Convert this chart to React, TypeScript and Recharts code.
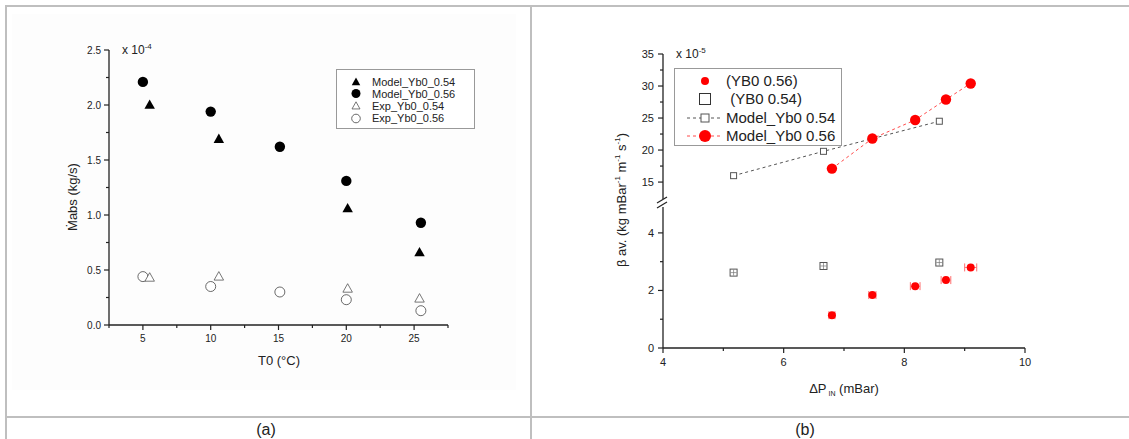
import React from "react";
import { ScatterChart, Scatter, XAxis, YAxis, ErrorBar } from "recharts";

const FONT = "Arial, 'Liberation Sans', sans-serif";
const AX = "#222";

// panel (a): absorbed mass flow vs inlet temperature (x 10^-4 kg/s)
const tempModel54 = [5.5, 10.6, 20.1, 25.4];
const mabsModel54 = [2.0, 1.69, 1.06, 0.66];
const tempModel56 = [5, 10, 15.1, 20, 25.5];
const mabsModel56 = [2.21, 1.94, 1.62, 1.31, 0.93];
const tempExp54 = [5.5, 10.6, 20.1, 25.4];
const mabsExp54 = [0.43, 0.44, 0.33, 0.24];
const tempExp56 = [5, 10, 15.1, 20, 25.5];
const mabsExp56 = [0.44, 0.35, 0.3, 0.23, 0.13];
const ticksA_x = [2.5, 5, 7.5, 10, 12.5, 15, 17.5, 20, 22.5, 25, 27.5];
const ticksA_y = [0, 0.25, 0.5, 0.75, 1, 1.25, 1.5, 1.75, 2, 2.25, 2.5];

// panel (b): beta vs inlet pressure drop
const dp54 = [5.17, 6.66, 8.58];
const betaModel54 = [16.0, 19.8, 24.5]; // x 10^-5
const betaExp54 = [2.62, 2.85, 2.97];
const dp56 = [6.8, 7.47, 8.18, 8.69, 9.1];
const betaModel56 = [17.1, 21.8, 24.7, 27.9, 30.4]; // x 10^-5
const betaExp56 = [1.14, 1.84, 2.15, 2.36, 2.8];
const errDp56 = [0.05, 0.06, 0.08, 0.08, 0.1];
const ticksB_x = [4, 5, 6, 7, 8, 9, 10];
const ticksB_yTop = [15, 17.5, 20, 22.5, 25, 27.5, 30, 32.5, 35];
const ticksB_yLow = [0, 1, 2, 3, 4];

const zip = (xs: number[], ys: number[]) => xs.map((x, i) => ({ x, y: ys[i] }));

const model54A = zip(tempModel54, mabsModel54);
const model56A = zip(tempModel56, mabsModel56);
const exp54A = zip(tempExp54, mabsExp54);
const exp56A = zip(tempExp56, mabsExp56);

const model54B = zip(dp54, betaModel54);
const model56B = zip(dp56, betaModel56);
const exp54B = dp54.map((x, i) => ({ x, y: betaExp54[i], ex: 0.05, ey: 0.1 }));
const exp56B = dp56.map((x, i) => ({ x, y: betaExp56[i], ex: errDp56[i] }));

const xTick = (isMajor: (v: number) => boolean, fs: number, dy: number) => (p: any) => {
  const { x, y, payload } = p;
  const m = isMajor(payload.value);
  return (
    <g>
      <line x1={x} x2={x} y1={y} y2={y + (m ? 5 : 3)} stroke={AX} strokeWidth={1.2} />
      {m && (
        <text x={x} y={y + dy} textAnchor="middle" fontSize={fs} fill={AX} fontFamily={FONT}>
          {payload.value}
        </text>
      )}
    </g>
  );
};

const yTick = (isMajor: (v: number) => boolean, fmt: (v: number) => string, fs: number, dx: number) => (p: any) => {
  const { x, y, payload } = p;
  const m = isMajor(payload.value);
  return (
    <g>
      <line x1={x} x2={x - (m ? 5 : 3)} y1={y} y2={y} stroke={AX} strokeWidth={1.2} />
      {m && (
        <text x={x - dx} y={y + fs * 0.35} textAnchor="end" fontSize={fs} fill={AX} fontFamily={FONT}>
          {fmt(payload.value)}
        </text>
      )}
    </g>
  );
};

const tri = (cx: number, cy: number, s: number) =>
  `M${cx},${cy - s} L${cx + s * 0.95},${cy + s * 0.7} L${cx - s * 0.95},${cy + s * 0.7} Z`;

const FilledTri = (p: any) => <path d={tri(p.cx, p.cy, 5.5)} fill="#000" />;
const OpenTri = (p: any) => <path d={tri(p.cx, p.cy, 5)} fill="#fff" stroke="#555" strokeWidth={0.8} />;
const FilledDot = (p: any) => <circle cx={p.cx} cy={p.cy} r={5.2} fill="#000" />;
const OpenDot = (p: any) => <circle cx={p.cx} cy={p.cy} r={5} fill="#fff" stroke="#444" strokeWidth={0.8} />;
const RedDotBig = (p: any) => <circle cx={p.cx} cy={p.cy} r={5.2} fill="#ff0000" />;
const RedDotSmall = (p: any) => <circle cx={p.cx} cy={p.cy} r={4} fill="#ff0000" />;
const GraySqSmall = (p: any) => <rect x={p.cx - 3} y={p.cy - 3} width={6} height={6} fill="#fff" stroke="#555" strokeWidth={1} />;
const GraySq = (p: any) => (
  <g>
    <rect x={p.cx - 3.5} y={p.cy - 3.5} width={7} height={7} fill="#fff" stroke="#555" strokeWidth={1} />
    <path d={`M${p.cx - 3},${p.cy} H${p.cx + 3} M${p.cx},${p.cy - 3} V${p.cy + 3}`} stroke="#777" strokeWidth={0.7} />
  </g>
);

const abs = (s: React.CSSProperties): React.CSSProperties => ({ position: "absolute", ...s });

export default function App() {
  return (
    <div style={abs({ left: 0, top: 0, width: 1129, height: 439, background: "#fff", overflow: "hidden", fontFamily: FONT, color: AX })}>
      {/* table lines */}
      <div style={abs({ left: 12, top: 14, width: 504, height: 376, background: "#fdfdfd" })} />
      <div style={abs({ left: 5, top: 5, width: 1124, height: 2, background: "#bfbfbf" })} />
      <div style={abs({ left: 5, top: 5, width: 2, height: 434, background: "#bfbfbf" })} />
      <div style={abs({ left: 530, top: 5, width: 2, height: 434, background: "#bfbfbf" })} />
      <div style={abs({ left: 5, top: 416, width: 1124, height: 2, background: "#bfbfbf" })} />

      {/* panel (a) */}
      <div style={abs({ left: 0, top: 0 })}>
        <ScatterChart width={531} height={400} margin={{ top: 50, right: 83, bottom: 45, left: 0 }}>
          <XAxis type="number" dataKey="x" domain={[2.5, 27.5]} ticks={ticksA_x} interval={0} height={30}
            tickSize={0} tickMargin={0} tickLine={false} axisLine={{ stroke: AX, strokeWidth: 1.3 }}
            tick={xTick((v) => v % 5 === 0, 10, 17)} allowDataOverflow />
          <YAxis type="number" dataKey="y" domain={[0, 2.5]} ticks={ticksA_y} interval={0} width={109}
            tickSize={0} tickMargin={0} tickLine={false} axisLine={{ stroke: AX, strokeWidth: 1.3 }}
            tick={yTick((v) => Math.abs(v * 2 - Math.round(v * 2)) < 1e-6, (v) => v.toFixed(1), 10, 8)} allowDataOverflow />
          <Scatter name="Exp_Yb0_0.56" data={exp56A} shape={OpenDot} isAnimationActive={false} />
          <Scatter name="Exp_Yb0_0.54" data={exp54A} shape={OpenTri} isAnimationActive={false} />
          <Scatter name="Model_Yb0_0.54" data={model54A} shape={FilledTri} isAnimationActive={false} />
          <Scatter name="Model_Yb0_0.56" data={model56A} shape={FilledDot} isAnimationActive={false} />
        </ScatterChart>
      </div>
      <div style={abs({ left: 122, top: 42, fontSize: 12, whiteSpace: "nowrap" })}>
        x 10<span style={{ fontSize: 8, verticalAlign: 5 }}>-4</span>
      </div>
      <div style={abs({ left: 72, top: 197, fontSize: 13, whiteSpace: "nowrap", transform: "translate(-50%,-50%) rotate(-90deg)" })}>
        Ṁabs (kg/s)
      </div>
      <div style={abs({ left: 279, top: 360, fontSize: 13, whiteSpace: "nowrap", transform: "translate(-50%,-50%)" })}>
        T0 (°C)
      </div>
      <div style={abs({ left: 336, top: 69, width: 137, height: 58, border: "1px solid #999", background: "#fff", fontSize: 11 })}>
        {[
          { label: "Model_Yb0_0.54", sym: <path d={tri(6, 7, 4.5)} fill="#000" /> },
          { label: "Model_Yb0_0.56", sym: <circle cx={6} cy={6.5} r={4.5} fill="#000" /> },
          { label: "Exp_Yb0_0.54", sym: <path d={tri(6, 7, 4.2)} fill="#fff" stroke="#555" strokeWidth={0.8} /> },
          { label: "Exp_Yb0_0.56", sym: <circle cx={6} cy={6.5} r={4.3} fill="#fff" stroke="#444" strokeWidth={0.8} /> },
        ].map((e, i) => (
          <div key={i} style={abs({ left: 13, top: 5 + i * 12.2, height: 13, display: "flex", alignItems: "center", whiteSpace: "nowrap" })}>
            <svg width={12} height={13}>{e.sym}</svg>
            <span style={{ marginLeft: 10 }}>{e.label}</span>
          </div>
        ))}
      </div>

      {/* panel (b), upper segment */}
      <div style={abs({ left: 531, top: 0 })}>
        <ScatterChart width={598} height={220} margin={{ top: 54, right: 104, bottom: 20, left: 0 }}>
          <XAxis type="number" dataKey="x" domain={[4, 10]} hide allowDataOverflow />
          <YAxis type="number" dataKey="y" domain={[12.2, 35]} ticks={ticksB_yTop} interval={0} width={132}
            tickSize={0} tickMargin={0} tickLine={false} axisLine={{ stroke: AX, strokeWidth: 1.3 }}
            tick={yTick((v) => v % 5 === 0, (v) => String(v), 11, 9)} allowDataOverflow />
          <Scatter name="Model_Yb0 0.54" data={model54B} shape={GraySqSmall} isAnimationActive={false}
            line={{ stroke: "#555", strokeWidth: 1, strokeDasharray: "3 3" }} />
          <Scatter name="Model_Yb0 0.56" data={model56B} shape={RedDotBig} isAnimationActive={false}
            line={{ stroke: "#ff4a4a", strokeWidth: 1, strokeDasharray: "3 3" }} />
        </ScatterChart>
      </div>

      {/* panel (b), lower segment */}
      <div style={abs({ left: 531, top: 0 })}>
        <ScatterChart width={598} height={400} margin={{ top: 207, right: 104, bottom: 22, left: 0 }}>
          <XAxis type="number" dataKey="x" domain={[4, 10]} ticks={ticksB_x} interval={0} height={30}
            tickSize={0} tickMargin={0} tickLine={false} axisLine={{ stroke: AX, strokeWidth: 1.3 }}
            tick={xTick((v) => v % 2 === 0, 11, 18)} allowDataOverflow />
          <YAxis type="number" dataKey="y" domain={[0, 4.9]} ticks={ticksB_yLow} interval={0} width={132}
            tickSize={0} tickMargin={0} tickLine={false} axisLine={{ stroke: AX, strokeWidth: 1.3 }}
            tick={yTick((v) => v % 2 === 0, (v) => String(v), 11, 9)} allowDataOverflow />
          <Scatter name="(YB0 0.54)" data={exp54B} shape={GraySq} isAnimationActive={false}>
            <ErrorBar dataKey="ex" direction="x" width={0} stroke="#555" strokeWidth={0.8} />
            <ErrorBar dataKey="ey" direction="y" width={0} stroke="#555" strokeWidth={0.8} />
          </Scatter>
          <Scatter name="(YB0 0.56)" data={exp56B} shape={RedDotSmall} isAnimationActive={false}>
            <ErrorBar dataKey="ex" direction="x" width={4} stroke="#ff7070" strokeWidth={1} />
          </Scatter>
        </ScatterChart>
      </div>

      {/* axis break marks */}
      <svg style={abs({ left: 650, top: 194 })} width={26} height={20}>
        <rect x={8} y={5} width={10} height={8} fill="#fff" />
        <line x1={7} y1={9} x2={17} y2={3} stroke={AX} strokeWidth={1.2} />
        <line x1={7} y1={14} x2={17} y2={8} stroke={AX} strokeWidth={1.2} />
      </svg>

      <div style={abs({ left: 676, top: 46, fontSize: 12, whiteSpace: "nowrap" })}>
        x 10<span style={{ fontSize: 8, verticalAlign: 5 }}>-5</span>
      </div>
      <div style={abs({ left: 621, top: 200, fontSize: 13, whiteSpace: "nowrap", transform: "translate(-50%,-50%) rotate(-90deg)" })}>
        β av. (kg mBar<sup style={{ fontSize: 8 }}>-1</sup> m<sup style={{ fontSize: 8 }}>-1</sup> s<sup style={{ fontSize: 8 }}>-1</sup>)
      </div>
      <div style={abs({ left: 844, top: 389, fontSize: 13, whiteSpace: "nowrap", transform: "translate(-50%,-50%)" })}>
        ΔP<sub style={{ fontSize: 7 }}> IN</sub> (mBar)
      </div>
      <div style={abs({ left: 674, top: 68, width: 166, height: 76, border: "1px solid #999", background: "#fff", fontSize: 15 })}>
        {[
          { label: "(YB0 0.56)", tx: 51, sym: <circle cx={30} cy={9} r={4} fill="#ff0000" /> },
          { label: " (YB0 0.54)", tx: 51, sym: <rect x={24.5} y={3.5} width={11} height={11} fill="#fff" stroke="#333" strokeWidth={1} /> },
          {
            label: "Model_Yb0 0.54", tx: 51, sym: (
              <g>
                <line x1={12} x2={48} y1={9} y2={9} stroke="#555" strokeDasharray="3 3" />
                <rect x={26} y={5} width={8} height={8} fill="#fff" stroke="#555" />
              </g>
            ),
          },
          {
            label: "Model_Yb0 0.56", tx: 51, sym: (
              <g>
                <line x1={12} x2={48} y1={9} y2={9} stroke="#ff4a4a" strokeDasharray="3 3" />
                <circle cx={30} cy={9} r={6} fill="#ff0000" />
              </g>
            ),
          },
        ].map((e, i) => (
          <div key={i} style={abs({ left: 0, top: 3 + i * 18.3, height: 18, width: 166 })}>
            <svg style={abs({ left: 0, top: 0 })} width={50} height={18}>{e.sym}</svg>
            <span style={abs({ left: e.tx, top: 0, lineHeight: "18px", whiteSpace: "pre" })}>{e.label}</span>
          </div>
        ))}
      </div>

      {/* captions */}
      <div style={abs({ left: 266, top: 430, fontSize: 16, transform: "translate(-50%,-50%)" })}>(a)</div>
      <div style={abs({ left: 805, top: 430, fontSize: 16, transform: "translate(-50%,-50%)" })}>(b)</div>
    </div>
  );
}
